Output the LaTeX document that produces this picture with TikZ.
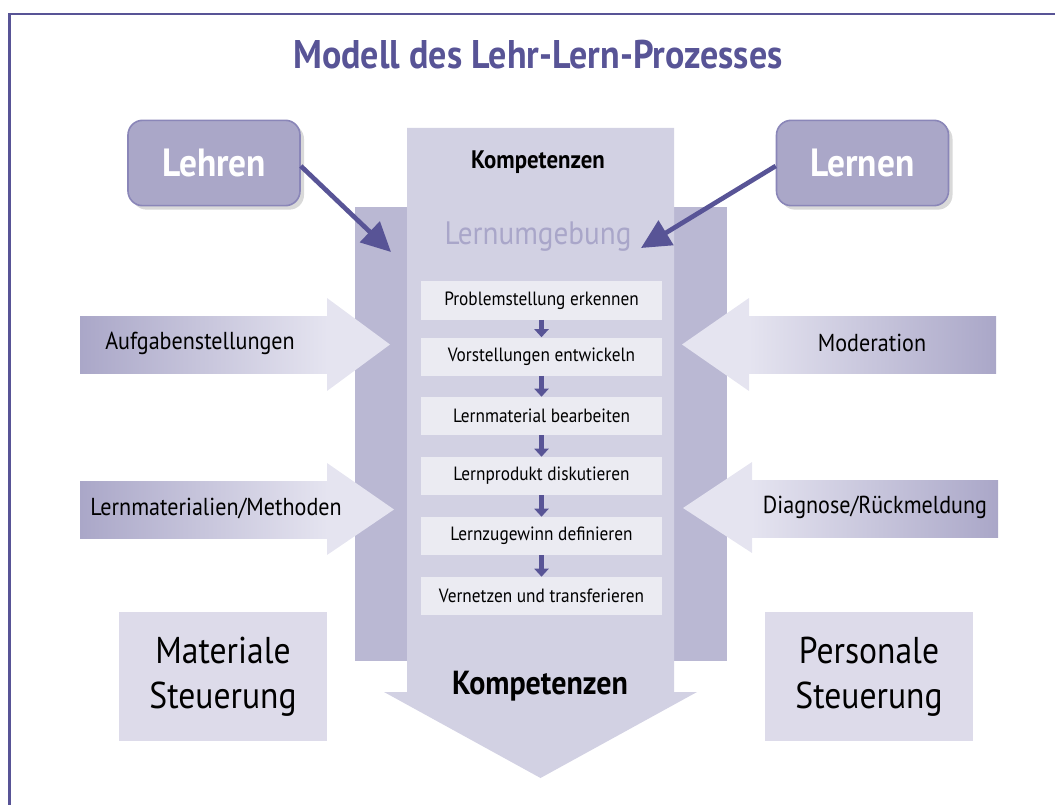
\documentclass[tikz,border=0pt]{standalone}
\usepackage{fontspec}
\setmainfont{PT Sans}[FakeStretch=0.9]
\usepackage{xcolor}
\usepackage{tikz}
\usetikzlibrary{arrows.meta,positioning,shadows,calc}

\definecolor{lilaDunkel}{RGB}{88,84,150}
\definecolor{lilaBox}{RGB}{170,167,200}
\definecolor{lilaRand}{RGB}{138,134,184}
\definecolor{lilaSaeule}{RGB}{210,209,227}
\definecolor{lilaHinten}{RGB}{186,184,211}
\definecolor{lilaSchritt}{RGB}{235,235,242}
\definecolor{lilaFeld}{RGB}{221,219,234}
\definecolor{lilaText}{RGB}{169,166,201}
\definecolor{lilaHell}{RGB}{229,228,240}

\begin{document}
\begin{tikzpicture}[x=0.75pt, y=-0.75pt,
  rolle/.style={draw=lilaRand, line width=1.2pt, fill=lilaBox, rounded corners=11pt,
    minimum width=129pt, minimum height=64pt, text=white,
    font=\bfseries\fontsize{29.5}{31}\selectfont,
    drop shadow={shadow xshift=3pt, shadow yshift=-3pt, opacity=0.3}},
  schritt/.style={fill=lilaSchritt, minimum width=181pt, minimum height=28.5pt,
    inner sep=0pt, font=\fontsize{14.4}{16}\selectfont},
  pfeilchen/.style={-{Triangle[length=6pt,width=10.5pt]}, line width=3.5pt, draw=lilaDunkel},
  zeiger/.style={-{Triangle[length=22pt,width=21pt]}, line width=3.5pt, draw=lilaDunkel},
  feld/.style={fill=lilaFeld, minimum width=156pt, minimum height=97pt, align=center,
    font=\fontsize{28}{34}\selectfont},
  eingang/.style={font=\fontsize{18.4}{20}\selectfont}
]
\useasboundingbox (0,0) rectangle (1055,805);

% Rahmen (nur oben und links sichtbar)
\draw[lilaDunkel, line width=2.2pt] (9.5,805) -- (9.5,14) -- (1055,14);

% Titel
\node[font=\bfseries\fontsize{30}{32}\selectfont, text=lilaDunkel] (titel) at (538,55) {Modell des Lehr-Lern-Prozesses};

% Lernumgebung (Hintergrund) und Kompetenz-Saeule als Pfeil nach unten
\fill[lilaHinten] (355,207) rectangle (727,661);
\fill[lilaSaeule] (407,128) -- (674,128) -- (674,692) -- (697,692) -- (540.5,778)
  -- (384,692) -- (407,692) -- cycle;

\node[font=\bfseries\fontsize{19}{21}\selectfont] (kompOben) at (538,162) {Kompetenzen};
\node[text=lilaText, font=\fontsize{24.3}{26}\selectfont] (umgebung) at (538,237) {Lernumgebung};
\node[font=\bfseries\fontsize{25}{27}\selectfont] (kompUnten) at (540,686) {Kompetenzen};

% Lernschritte
\foreach \y/\txt [count=\i] in {300.5/Problemstellung erkennen, 356.5/Vorstellungen entwickeln,
    416/Lernmaterial bearbeiten, 476/Lernprodukt diskutieren,
    536/Lernzugewinn definieren, 596/Vernetzen und transferieren}
  \node[schritt] (s\i) at (541.5,\y) {\txt};
\foreach \i [evaluate=\i as \j using int(\i+1)] in {1,...,5}
  \draw[pfeilchen] (s\i.south) -- (s\j.north);

% Eingaenge links (materiale Seite)
\shade[left color=lilaBox, right color=lilaHell] (80,316) rectangle (328,373);
\fill[lilaHell] (327,298) -- (390,344.5) -- (327,391) -- cycle;
\shade[left color=lilaBox, right color=lilaHell] (80,481) rectangle (328,538);
\fill[lilaHell] (327,463) -- (394,509.5) -- (327,555) -- cycle;
\node[eingang] (aufgaben) at (200,343) {Aufgabenstellungen};
\node[eingang] (methoden) at (216,508) {Lernmaterialien/Methoden};

% Eingaenge rechts (personale Seite)
\shade[left color=lilaHell, right color=lilaBox] (748,316) rectangle (996,373);
\fill[lilaHell] (749,298) -- (682,344.5) -- (749,391) -- cycle;
\shade[left color=lilaHell, right color=lilaBox] (751,480) rectangle (998,537);
\fill[lilaHell] (752,462) -- (683,508) -- (752,553) -- cycle;
\node[eingang] (moderation) at (872,343) {Moderation};
\node[eingang] (diagnose) at (875,507) {Diagnose/Rückmeldung};

% Lehren und Lernen
\node[rolle] (lehren) at (214,163) {Lehren};
\node[rolle] (lernen) at (862.5,163) {Lernen};
\coordinate (zielL) at (391,252);
\coordinate (zielR) at (641,248);
\draw[zeiger] ($(lehren.east)+(0,3)$) -- (zielL);
\draw[zeiger] ($(lernen.west)+(0,3)$) -- (zielR);

% Steuerung
\node[feld] (materiale) at (223,676.5) {Materiale\\Steuerung};
\node[feld] (personale) at (869,676.5) {Personale\\Steuerung};

\end{tikzpicture}
\end{document}
